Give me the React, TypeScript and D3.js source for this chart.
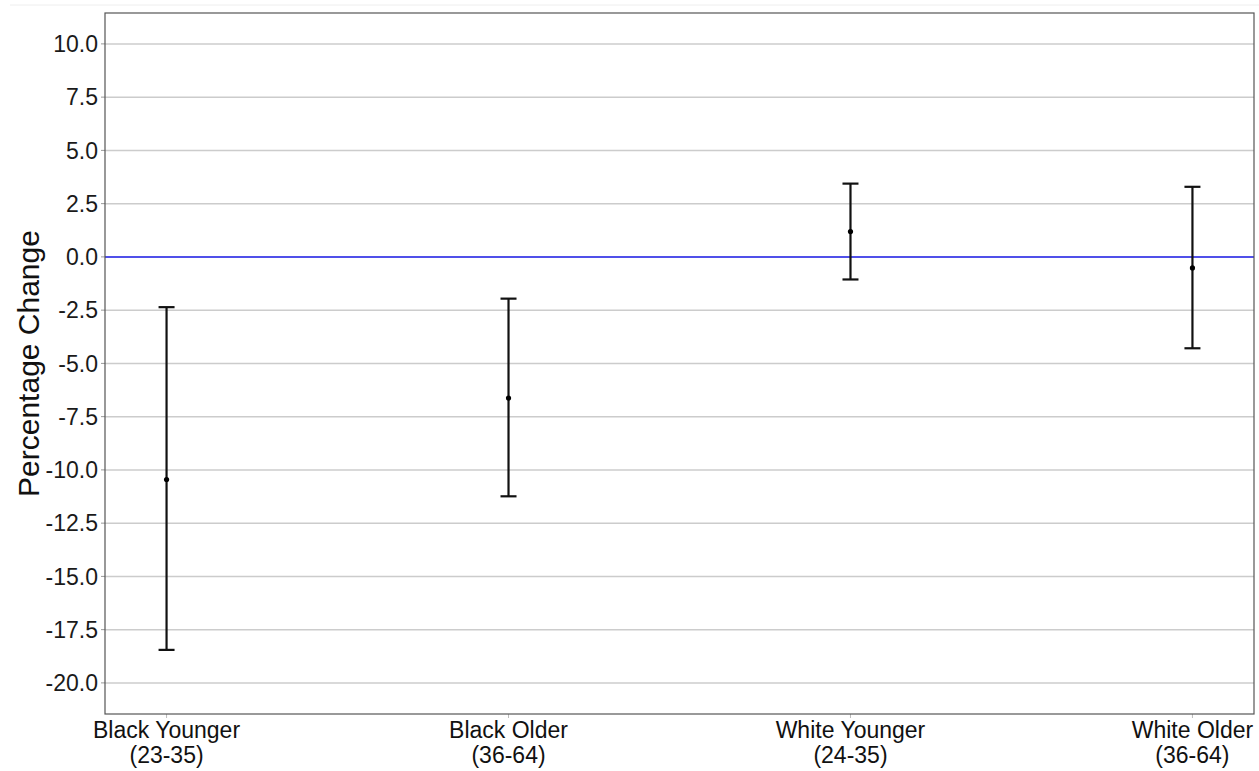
import React from 'react';
import * as d3 from 'd3';

const width = 1259;
const height = 771;
const margin = { top: 13, right: 5, bottom: 57, left: 105 };

const groups = ['Black Younger', 'Black Older', 'White Younger', 'White Older'];
const ageRanges = ['(23-35)', '(36-64)', '(24-35)', '(36-64)'];
const estimates = [-10.45, -6.63, 1.19, -0.52];
const lowerCI = [-18.45, -11.24, -1.06, -4.29];
const upperCI = [-2.36, -1.96, 3.44, 3.29];
const yTicks = [10, 7.5, 5, 2.5, 0, -2.5, -5, -7.5, -10, -12.5, -15, -17.5, -20];

const font = '"Liberation Sans", Arial, sans-serif';

export default function App() {
  const x = d3.scalePoint()
    .domain(groups)
    .range([margin.left, width - margin.right])
    .padding(0.18);

  const y = d3.scaleLinear()
    .domain([-21.46, 11.45])
    .range([height - margin.bottom, margin.top]);

  const left = margin.left;
  const right = width - margin.right;
  const top = margin.top;
  const bottom = height - margin.bottom;
  const capW = 8;

  return (
    <svg width={width} height={height} style={{ position: 'absolute', left: 0, top: 0 }}>
      <rect width={width} height={height} fill="#fff" />
      <line x1={10} x2={width} y1={5} y2={5} stroke="#eee" strokeWidth={1} />
      {yTicks.map((t) => (
        <g key={t}>
          <line x1={left} x2={right} y1={y(t)} y2={y(t)} stroke="#cccccc" strokeWidth={1.5} />
          <line x1={left - 4} x2={left} y1={y(t)} y2={y(t)} stroke="#999" strokeWidth={1} />
          <text x={left - 7} y={y(t)} dy="0.36em" textAnchor="end" fontFamily={font} fontSize={23} fill="#1a1a1a">
            {t.toFixed(1)}
          </text>
        </g>
      ))}
      <line x1={left} x2={right} y1={y(0)} y2={y(0)} stroke="#2222ee" strokeWidth={1.5} />
      {groups.map((g, i) => {
        const cx = x(g) as number;
        return (
          <g key={g}>
            <line x1={cx} x2={cx} y1={y(lowerCI[i])} y2={y(upperCI[i])} stroke="#111" strokeWidth={2.2} />
            <line x1={cx - capW} x2={cx + capW} y1={y(upperCI[i])} y2={y(upperCI[i])} stroke="#111" strokeWidth={2.2} />
            <line x1={cx - capW} x2={cx + capW} y1={y(lowerCI[i])} y2={y(lowerCI[i])} stroke="#111" strokeWidth={2.2} />
            <circle cx={cx} cy={y(estimates[i])} r={2.6} fill="#000" />
            <line x1={cx} x2={cx} y1={bottom} y2={bottom + 4} stroke="#bbb" strokeWidth={1} />
            <text x={cx} y={738} textAnchor="middle" fontFamily={font} fontSize={23} fill="#111">{g}</text>
            <text x={cx} y={763} textAnchor="middle" fontFamily={font} fontSize={23} fill="#111">{ageRanges[i]}</text>
          </g>
        );
      })}
      <rect x={left} y={top} width={right - left} height={bottom - top} fill="none" stroke="#555" strokeWidth={1.2} />
      <text
        transform={`translate(39, ${(top + bottom) / 2}) rotate(-90)`}
        textAnchor="middle"
        fontFamily={font}
        fontSize={30}
        fill="#111"
      >
        Percentage Change
      </text>
    </svg>
  );
}
